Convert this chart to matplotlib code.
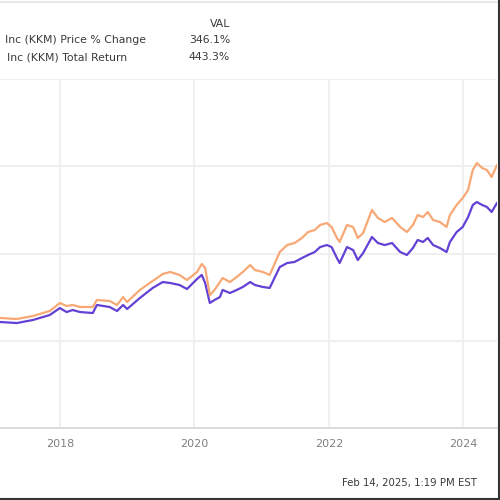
import matplotlib
matplotlib.use("Agg")
import matplotlib.pyplot as plt
from matplotlib.lines import Line2D

# ---- data ----
years = [2017.11, 2017.36, 2017.60, 2017.85, 2018.00, 2018.10, 2018.19, 2018.30, 2018.49, 2018.55,
         2018.74, 2018.85, 2018.94, 2019.00, 2019.19, 2019.38, 2019.53, 2019.64, 2019.78, 2019.89,
         2020.04, 2020.11, 2020.16, 2020.23, 2020.30, 2020.38, 2020.42, 2020.53, 2020.63, 2020.72,
         2020.83, 2020.90, 2021.02, 2021.12, 2021.27, 2021.38, 2021.49, 2021.60, 2021.69, 2021.79,
         2021.87, 2021.97, 2022.04, 2022.12, 2022.16, 2022.27, 2022.36, 2022.43, 2022.51, 2022.64,
         2022.73, 2022.83, 2022.94, 2023.06, 2023.16, 2023.25, 2023.32, 2023.40, 2023.47, 2023.55,
         2023.65, 2023.75, 2023.80, 2023.90, 2023.99, 2024.07, 2024.14, 2024.20, 2024.28, 2024.35,
         2024.42, 2024.50]
total_return = [126.1, 124.9, 128.4, 134.1, 143.3, 139.8, 141.0, 138.7, 138.7, 146.7,
                145.6, 141.0, 150.1, 144.4, 158.2, 168.5, 176.5, 178.8, 175.4, 169.6,
                178.8, 188.0, 183.4, 152.4, 158.2, 167.3, 171.9, 167.3, 173.1, 178.8,
                186.8, 181.1, 178.8, 175.4, 201.7, 209.7, 212.0, 217.8, 224.6, 226.9,
                232.7, 234.9, 230.4, 217.8, 213.2, 232.7, 230.4, 217.8, 223.5, 249.9,
                240.7, 236.1, 240.7, 230.4, 224.6, 232.7, 244.1, 241.8, 247.6, 238.4,
                236.1, 230.4, 244.1, 255.6, 263.6, 272.8, 295.7, 303.7, 298.0, 295.7,
                287.7, 301.4]
price_change = [121.5, 120.3, 123.8, 129.5, 137.5, 132.9, 135.2, 132.9, 131.8, 141.0,
                138.7, 134.1, 141.0, 136.4, 149.0, 160.5, 167.3, 166.2, 163.9, 159.3,
                170.8, 175.4, 166.2, 143.3, 146.7, 150.1, 158.2, 154.7, 158.2, 161.6,
                167.3, 163.9, 161.6, 160.5, 184.5, 189.1, 190.3, 194.8, 198.3, 201.7,
                207.4, 209.7, 207.4, 194.8, 189.1, 207.4, 204.0, 192.5, 200.6, 218.9,
                212.0, 209.7, 212.0, 201.7, 198.3, 206.3, 215.5, 213.2, 217.8, 209.7,
                206.3, 201.7, 213.2, 224.6, 230.4, 241.8, 255.6, 259.0, 255.6, 253.3,
                247.6, 257.9]
x_ticks = [2018, 2020, 2022, 2024]
x_tick_labels = ["2018", "2020", "2022", "2024"]
y_grid = [0, 100, 200, 300, 400]
legend_names = ["Inc (KKM) Price % Change", "Inc (KKM) Total Return"]
legend_values = ["346.1%", "443.3%"]

PURPLE = "#5b37d2"
ORANGE = "#f7a46e"
GRID = "#eeeeee"
TXT = "#3a3a3a"

fig = plt.figure(figsize=(5, 5), dpi=100)
fig.patch.set_facecolor("white")

ax = fig.add_axes([0.0, 0.144, 0.994, 0.698])
ax.plot(years, price_change, color=PURPLE, lw=1.6, solid_joinstyle="round", alpha=0.95)
ax.plot(years, total_return, color=ORANGE, lw=1.6, solid_joinstyle="round", alpha=0.95)
ax.set_xlim(2017.11, 2024.50)
ax.set_ylim(0, 400)
ax.set_xticks(x_ticks)
ax.set_xticklabels(x_tick_labels)
ax.set_yticks(y_grid)
ax.set_yticklabels([])
ax.tick_params(axis="both", length=0, labelsize=8, colors="#808080", pad=8)
ax.grid(True, color=GRID, lw=1.2)
for s in ["top", "right", "left"]:
    ax.spines[s].set_visible(False)
ax.spines["bottom"].set_color("#dcdcdc")
ax.spines["bottom"].set_linewidth(1.4)
ax.set_axisbelow(True)

# header / legend
fs = 7.8
fig.text(230 / 500, 1 - 24 / 500, "VAL", ha="right", va="center", fontsize=fs, color=TXT)
fig.text(146 / 500, 1 - 40 / 500, legend_names[0], ha="right", va="center", fontsize=fs, color=TXT)
fig.text(127 / 500, 1 - 57 / 500, legend_names[1], ha="right", va="center", fontsize=fs, color=TXT)
fig.text(230 / 500, 1 - 40 / 500, legend_values[0], ha="right", va="center", fontsize=fs, color=TXT)
fig.text(230 / 500, 1 - 57 / 500, legend_values[1], ha="right", va="center", fontsize=fs, color=TXT)

# footer
fig.text(342 / 500, 1 - 483 / 500, "Feb 14, 2025, 1:19 PM EST",
         ha="left", va="center", fontsize=7.3, color=TXT)

# frame lines
fig.add_artist(Line2D([0, 1], [1 - 1.5 / 500, 1 - 1.5 / 500], transform=fig.transFigure, color="#e8e8e8", lw=1.5))
fig.add_artist(Line2D([0.997, 0.997], [0, 1], transform=fig.transFigure, color="#333333", lw=1.5))
fig.add_artist(Line2D([0, 1], [0.003, 0.003], transform=fig.transFigure, color="#333333", lw=1.5))

fig.savefig("out.png", dpi=100, facecolor="white")
